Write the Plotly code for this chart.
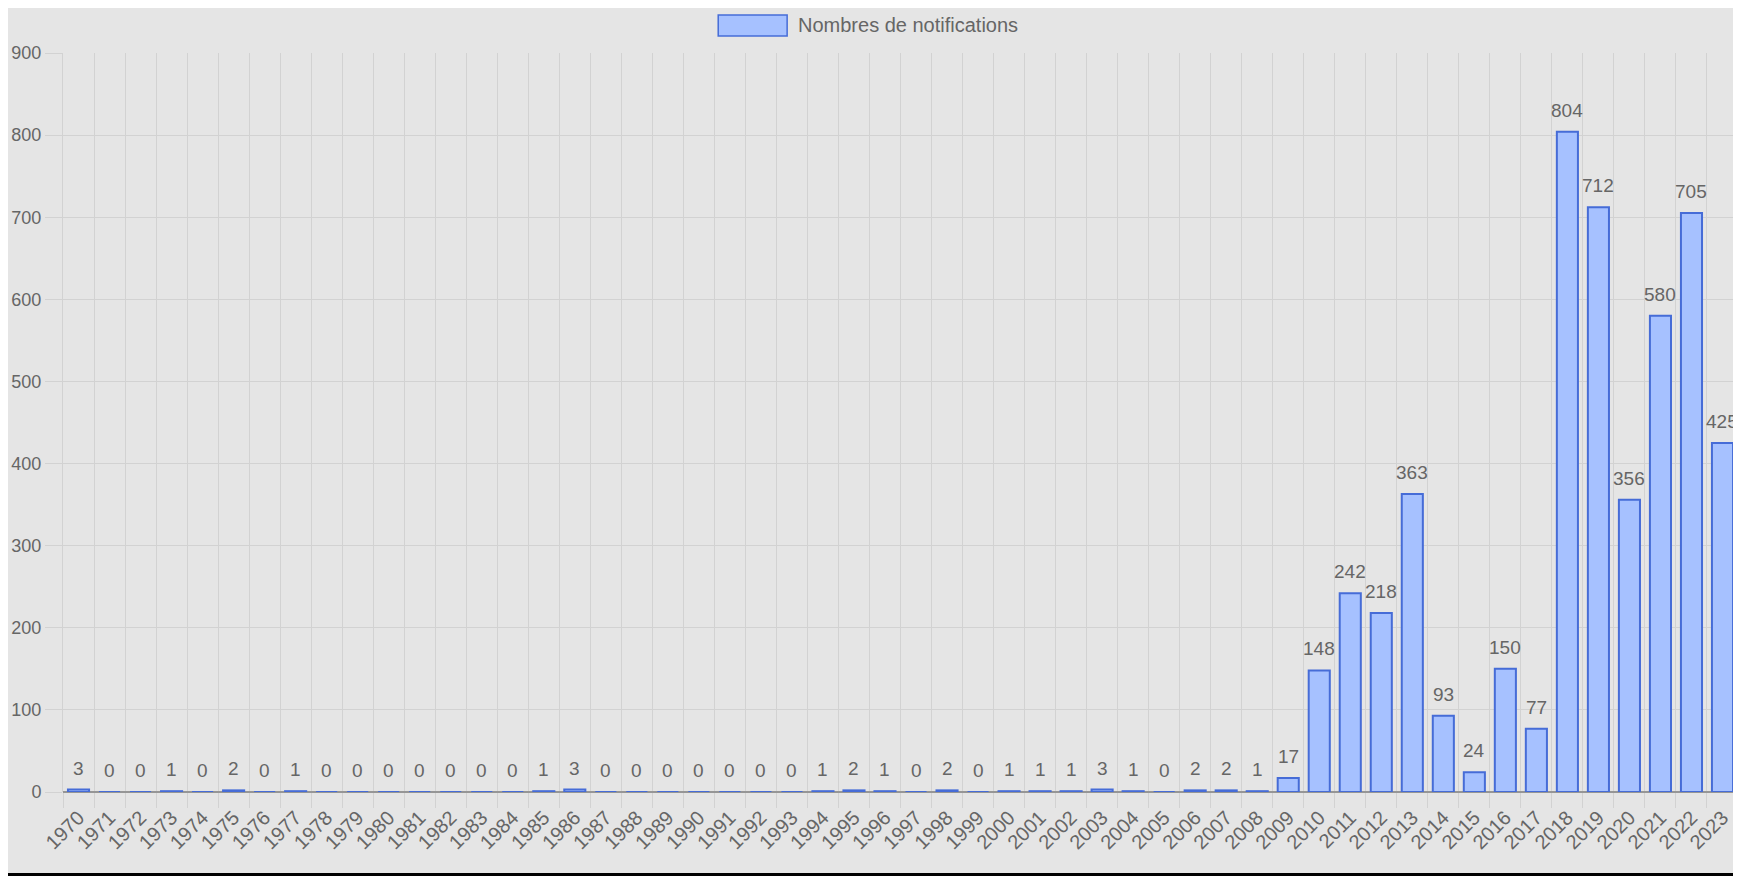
import plotly.graph_objects as go

years = [str(y) for y in range(1970, 2024)]
notifications = [3, 0, 0, 1, 0, 2, 0, 1, 0, 0, 0, 0, 0, 0, 0, 1, 3, 0, 0, 0,
                 0, 0, 0, 0, 1, 2, 1, 0, 2, 0, 1, 1, 1, 3, 1, 0, 2, 2, 1, 17,
                 148, 242, 218, 363, 93, 24, 150, 77, 804, 712, 356, 580, 705, 425]
series_name = "Nombres de notifications"
y_ticks = list(range(0, 1000, 100))

# page body has an 8px margin; figure sits at (8, 8)
OFF = 8
W, H = 1733, 868
ML, MR, MT, MB = 53, 3, 45, 84
PW, PH = W - ML - MR, H - MT - MB


def px_x(page_px):
    return (page_px - OFF - ML) / PW


def px_y(page_py):
    return (H - (page_py - OFF) - MB) / PH


BG = "rgb(229,229,229)"
GRID = "rgb(210,210,210)"
FILL = "rgb(166,193,255)"
EDGE = "rgb(70,108,215)"
TXT = "#666666"
FONT = "Liberation Sans, Arial, Helvetica, sans-serif"

fig = go.Figure()
fig.add_trace(go.Bar(
    x=years, y=notifications, name=series_name,
    marker=dict(color=FILL, line=dict(color=EDGE, width=2)),
    showlegend=False, hoverinfo="x+y",
))

for i, v in enumerate(notifications):
    fig.add_annotation(x=i, y=v, text=str(v), showarrow=False,
                       yanchor="bottom", yshift=9,
                       font=dict(size=19, color=TXT, family=FONT))

shapes = [
    dict(type="rect", xref="paper", yref="paper", x0=-0.1, x1=1.1,
         y0=-0.2, y1=px_y(873), fillcolor="black", line_width=0, layer="above"),
    # legend swatch
    dict(type="rect", xref="paper", yref="paper", x0=px_x(717), x1=px_x(786),
         y0=px_y(36), y1=px_y(15), fillcolor=FILL,
         line=dict(color=EDGE, width=1.5)),
]
fig.add_annotation(xref="paper", yref="paper", x=px_x(795), y=px_y(25.5),
                   xanchor="left", yanchor="middle", showarrow=False,
                   text=series_name, font=dict(size=20, color=TXT, family=FONT))

fig.update_layout(
    width=W, height=H,
    margin=dict(l=ML, r=MR, t=MT, b=MB, pad=0),
    paper_bgcolor=BG, plot_bgcolor=BG,
    bargap=0.32,
    shapes=shapes,
    font=dict(family=FONT, color=TXT, size=18),
    xaxis=dict(
        type="category", range=[-0.5, len(years) - 0.5],
        tickson="boundaries", ticks="outside", ticklen=15,
        tickcolor=GRID, showgrid=True, gridcolor=GRID, gridwidth=1,
        tickangle=-45, tickfont=dict(size=20, color=TXT, family=FONT),
        ticklabelstandoff=9,
        showline=False, zeroline=False,
    ),
    yaxis=dict(
        range=[0, 900], tickvals=y_ticks, ticks="outside", ticklen=17,
        tickcolor=GRID, showgrid=True, gridcolor=GRID, gridwidth=1,
        zeroline=True, zerolinecolor="rgb(150,150,150)", zerolinewidth=1.5,
        showline=True, linecolor=GRID, linewidth=1,
        tickfont=dict(size=18, color=TXT, family=FONT),
    ),
)

fig.write_html("out.html")
